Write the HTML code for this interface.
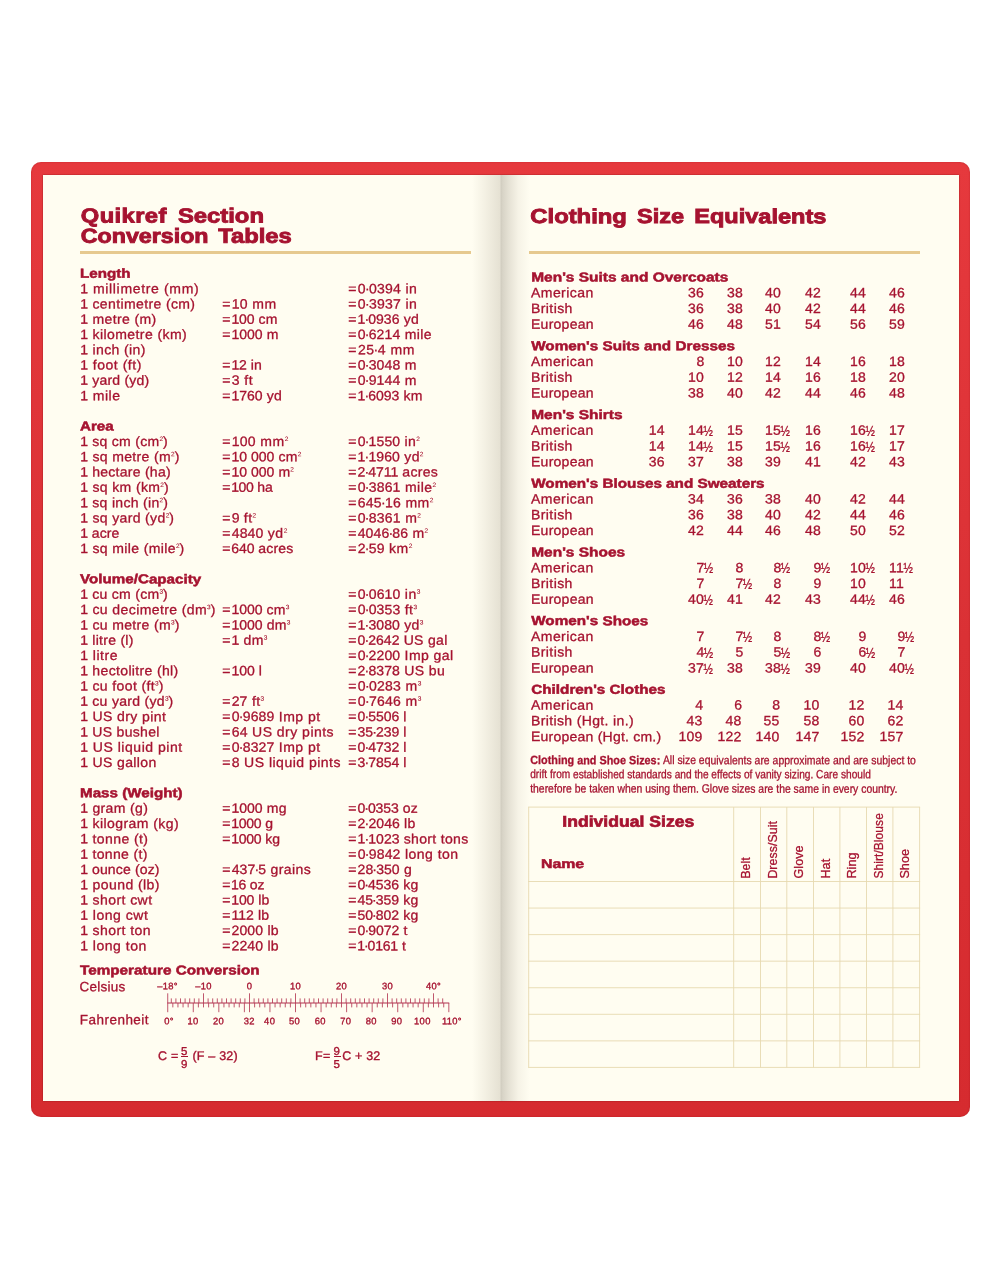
<!DOCTYPE html>
<html lang="en">
<head>
<meta charset="utf-8">
<title>Quikref Section – Conversion Tables / Clothing Size Equivalents</title>
<style>
html,body{margin:0;padding:0;background:#fff;}
body{width:1000px;height:1278px;position:relative;overflow:hidden;font-family:"Liberation Sans",sans-serif;color:#a61330;}
#cover{position:absolute;left:31.1px;top:161.8px;width:939.3px;height:954.8px;border-radius:10px;background:linear-gradient(180deg,#e6393d 0%,#e03539 25%,#da3135 50%,#d82e32 75%,#d62b2f 100%);box-shadow:inset 0 0 1.5px rgba(130,10,15,.55);}
#paper{position:absolute;left:43.1px;top:174.6px;width:916.1px;height:926.6px;background:#fffdf1;overflow:hidden;box-shadow:0 0 1.5px rgba(110,10,15,.7);}
#gl{position:absolute;left:429px;top:0;width:29px;height:100%;background:linear-gradient(90deg,rgba(238,234,220,0) 0%,rgba(236,232,218,.6) 45%,rgba(229,225,211,1) 97%,rgba(206,202,190,1) 100%);}
#gr{position:absolute;left:458px;top:0;width:29px;height:100%;background:linear-gradient(90deg,rgba(208,204,191,1) 0%,rgba(216,212,199,1) 6%,rgba(226,222,209,.88) 28%,rgba(237,233,220,.5) 60%,rgba(240,236,223,0) 100%);}
#txt div{position:absolute;left:0;top:0;white-space:pre;line-height:0;height:0;transform-origin:0 0;}
#txt div.c{text-align:center;}
#txt div.v{font-size:13.5px;letter-spacing:.1px;}
#txt div.f{-webkit-text-stroke:.35px #a61330;}
#txt div.h2{-webkit-text-stroke:.65px #a61330;}
#txt div.bar{height:1px;background:#a61330;}
#txt i{font-style:normal;font-size:6.3px;position:relative;top:-4.8px;letter-spacing:0;margin-left:0;-webkit-text-stroke:.1px #a61330;}
#txt b{font-weight:400;display:inline-block;transform:scale(.8,1.08) translateY(.9px);transform-origin:0 50%;letter-spacing:0;margin-left:-.5px;}
#txt strong{font-weight:700;}
#txt s{text-decoration:none;margin:0 -.85px;}
#txt em{font-style:normal;margin-right:1px;}
#txt u{text-decoration:none;letter-spacing:.2px;}
#txt div{-webkit-text-stroke:.3px #a61330;}
#txt div.h1{-webkit-text-stroke:.9px #a61330;}
#txt div.h{-webkit-text-stroke:.5px #a61330;}
.rule{position:absolute;height:3.2px;background:#e6c98f;top:251.1px;}
svg{position:absolute;left:0;top:0;}
svg.sc path{stroke:#b53a55;stroke-width:.85;fill:none;}
svg.sc path.ln{stroke:#b0304c;stroke-width:1;}
svg.grid path{stroke:#e6d9b0;stroke-width:.9;fill:none;}
</style>
</head>
<body>
<div id="cover"></div>
<div id="paper"><div id="gl"></div><div id="gr"></div></div>
<div class="rule" style="left:80px;width:390.9px"></div>
<div class="rule" style="left:529.3px;width:390.7px;top:251.3px"></div>
<div id="txt">
<div class="h1" style="transform:translate(80.80px,215.50px) matrix(1.17,.0005,0,1,0,0);font-size:20.3px;font-weight:700;letter-spacing:0.35px;">Quikref</div>
<div class="h1" style="transform:translate(177.90px,215.50px) matrix(1.175,.0005,0,1,0,0);font-size:20.3px;font-weight:700;">Section</div>
<div class="h1" style="transform:translate(80.80px,235.80px) matrix(1.145,.0005,0,1,0,0);font-size:20.3px;font-weight:700;">Conversion</div>
<div class="h1" style="transform:translate(218.30px,235.80px) matrix(1.17,.0005,0,1,0,0);font-size:20.3px;font-weight:700;">Tables</div>
<div class="h" style="transform:translate(80.00px,273.67px) matrix(1.168,.0005,0,1,0,0);font-size:13px;font-weight:700;">Length</div>
<div style="transform:translate(80.30px,289.15px) matrix(1.04,.0005,0,1,0,0);font-size:13.5px;letter-spacing:0.62px;"><u style="letter-spacing:0.32px">1</u> millimetre (mm)</div>
<div style="transform:translate(348.30px,289.15px) matrix(1.04,.0005,0,1,0,0);font-size:13.5px;letter-spacing:0.5px;"><u><em>=</em>0<s>·</s>0394</u> in</div>
<div style="transform:translate(80.30px,304.43px) matrix(1.04,.0005,0,1,0,0);font-size:13.5px;letter-spacing:0.35px;"><u style="letter-spacing:0.05px">1</u> centimetre (cm)</div>
<div style="transform:translate(222.30px,304.43px) matrix(1.04,.0005,0,1,0,0);font-size:13.5px;letter-spacing:0.5px;"><u><em>=</em>10</u> mm</div>
<div style="transform:translate(348.30px,304.43px) matrix(1.04,.0005,0,1,0,0);font-size:13.5px;letter-spacing:0.5px;"><u><em>=</em>0<s>·</s>3937</u> in</div>
<div style="transform:translate(80.30px,319.72px) matrix(1.04,.0005,0,1,0,0);font-size:13.5px;letter-spacing:0.36px;"><u style="letter-spacing:0.06px">1</u> metre (m)</div>
<div style="transform:translate(222.30px,319.72px) matrix(1.04,.0005,0,1,0,0);font-size:13.5px;letter-spacing:0.18px;"><u style="letter-spacing:-0.12px"><em>=</em>100</u> cm</div>
<div style="transform:translate(348.30px,319.72px) matrix(1.04,.0005,0,1,0,0);font-size:13.5px;letter-spacing:0.29px;"><u style="letter-spacing:-0.01px"><em>=</em>1<s>·</s>0936</u> yd</div>
<div style="transform:translate(80.30px,335.00px) matrix(1.04,.0005,0,1,0,0);font-size:13.5px;letter-spacing:0.39px;"><u style="letter-spacing:0.09px">1</u> kilometre (km)</div>
<div style="transform:translate(222.30px,335.00px) matrix(1.04,.0005,0,1,0,0);font-size:13.5px;letter-spacing:0.26px;"><u style="letter-spacing:-0.04px"><em>=</em>1000</u> m</div>
<div style="transform:translate(348.30px,335.00px) matrix(1.04,.0005,0,1,0,0);font-size:13.5px;letter-spacing:0.41px;"><u style="letter-spacing:0.11px"><em>=</em>0<s>·</s>6214</u> mile</div>
<div style="transform:translate(80.30px,350.29px) matrix(1.04,.0005,0,1,0,0);font-size:13.5px;letter-spacing:0.36px;"><u style="letter-spacing:0.06px">1</u> inch (in)</div>
<div style="transform:translate(348.30px,350.29px) matrix(1.04,.0005,0,1,0,0);font-size:13.5px;letter-spacing:0.67px;"><u style="letter-spacing:0.37px"><em>=</em>25<s>·</s>4</u> mm</div>
<div style="transform:translate(80.30px,365.57px) matrix(1.04,.0005,0,1,0,0);font-size:13.5px;letter-spacing:0.5px;"><u>1</u> foot (ft)</div>
<div style="transform:translate(222.30px,365.57px) matrix(1.04,.0005,0,1,0,0);font-size:13.5px;letter-spacing:0.16px;"><u style="letter-spacing:-0.14px"><em>=</em>12</u> in</div>
<div style="transform:translate(348.30px,365.57px) matrix(1.04,.0005,0,1,0,0);font-size:13.5px;letter-spacing:0.41px;"><u style="letter-spacing:0.11px"><em>=</em>0<s>·</s>3048</u> m</div>
<div style="transform:translate(80.30px,380.85px) matrix(1.04,.0005,0,1,0,0);font-size:13.5px;letter-spacing:0.21px;"><u style="letter-spacing:-0.09px">1</u> yard (yd)</div>
<div style="transform:translate(222.30px,380.85px) matrix(1.04,.0005,0,1,0,0);font-size:13.5px;letter-spacing:0.5px;"><u><em>=</em>3</u> ft</div>
<div style="transform:translate(348.30px,380.85px) matrix(1.04,.0005,0,1,0,0);font-size:13.5px;letter-spacing:0.41px;"><u style="letter-spacing:0.11px"><em>=</em>0<s>·</s>9144</u> m</div>
<div style="transform:translate(80.30px,396.14px) matrix(1.04,.0005,0,1,0,0);font-size:13.5px;letter-spacing:0.5px;"><u>1</u> mile</div>
<div style="transform:translate(222.30px,396.14px) matrix(1.04,.0005,0,1,0,0);font-size:13.5px;letter-spacing:0.26px;"><u style="letter-spacing:-0.04px"><em>=</em>1760</u> yd</div>
<div style="transform:translate(348.30px,396.14px) matrix(1.04,.0005,0,1,0,0);font-size:13.5px;letter-spacing:0.26px;"><u style="letter-spacing:-0.04px"><em>=</em>1<s>·</s>6093</u> km</div>
<div class="h" style="transform:translate(80.00px,426.51px) matrix(1.168,.0005,0,1,0,0);font-size:13px;font-weight:700;">Area</div>
<div style="transform:translate(80.30px,441.99px) matrix(1.04,.0005,0,1,0,0);font-size:13.5px;letter-spacing:0.26px;"><u style="letter-spacing:-0.04px">1</u> sq cm (cm<i>2</i>)</div>
<div style="transform:translate(222.30px,441.99px) matrix(1.04,.0005,0,1,0,0);font-size:13.5px;letter-spacing:0.5px;"><u><em>=</em>100</u> mm<i>2</i></div>
<div style="transform:translate(348.30px,441.99px) matrix(1.04,.0005,0,1,0,0);font-size:13.5px;letter-spacing:0.4px;"><u style="letter-spacing:0.10px"><em>=</em>0<s>·</s>1550</u> in<i>2</i></div>
<div style="transform:translate(80.30px,457.27px) matrix(1.04,.0005,0,1,0,0);font-size:13.5px;letter-spacing:0.33px;"><u style="letter-spacing:0.03px">1</u> sq metre (m<i>2</i>)</div>
<div style="transform:translate(222.30px,457.27px) matrix(1.04,.0005,0,1,0,0);font-size:13.5px;letter-spacing:0.26px;"><u style="letter-spacing:-0.04px"><em>=</em>10 000</u> cm<i>2</i></div>
<div style="transform:translate(348.30px,457.27px) matrix(1.04,.0005,0,1,0,0);font-size:13.5px;letter-spacing:0.36px;"><u style="letter-spacing:0.06px"><em>=</em>1<s>·</s>1960</u> yd<i>2</i></div>
<div style="transform:translate(80.30px,472.56px) matrix(1.04,.0005,0,1,0,0);font-size:13.5px;letter-spacing:0.24px;"><u style="letter-spacing:-0.06px">1</u> hectare (ha)</div>
<div style="transform:translate(222.30px,472.56px) matrix(1.04,.0005,0,1,0,0);font-size:13.5px;letter-spacing:0.26px;"><u style="letter-spacing:-0.04px"><em>=</em>10 000</u> m<i>2</i></div>
<div style="transform:translate(348.30px,472.56px) matrix(1.04,.0005,0,1,0,0);font-size:13.5px;letter-spacing:0.26px;"><u style="letter-spacing:-0.04px"><em>=</em>2<s>·</s>4711</u> acres</div>
<div style="transform:translate(80.30px,487.84px) matrix(1.04,.0005,0,1,0,0);font-size:13.5px;letter-spacing:0.34px;"><u style="letter-spacing:0.04px">1</u> sq km (km<i>2</i>)</div>
<div style="transform:translate(222.30px,487.84px) matrix(1.04,.0005,0,1,0,0);font-size:13.5px;letter-spacing:-0.06px;"><u style="letter-spacing:-0.36px"><em>=</em>100</u> ha</div>
<div style="transform:translate(348.30px,487.84px) matrix(1.04,.0005,0,1,0,0);font-size:13.5px;letter-spacing:0.44px;"><u style="letter-spacing:0.14px"><em>=</em>0<s>·</s>3861</u> mile<i>2</i></div>
<div style="transform:translate(80.30px,503.13px) matrix(1.04,.0005,0,1,0,0);font-size:13.5px;letter-spacing:0.29px;"><u style="letter-spacing:-0.01px">1</u> sq inch (in<i>2</i>)</div>
<div style="transform:translate(348.30px,503.13px) matrix(1.04,.0005,0,1,0,0);font-size:13.5px;letter-spacing:0.5px;"><u><em>=</em>645<s>·</s>16</u> mm<i>2</i></div>
<div style="transform:translate(80.30px,518.41px) matrix(1.04,.0005,0,1,0,0);font-size:13.5px;letter-spacing:0.33px;"><u style="letter-spacing:0.03px">1</u> sq yard (yd<i>2</i>)</div>
<div style="transform:translate(222.30px,518.41px) matrix(1.04,.0005,0,1,0,0);font-size:13.5px;letter-spacing:0.4px;"><u style="letter-spacing:0.10px"><em>=</em>9</u> ft<i>2</i></div>
<div style="transform:translate(348.30px,518.41px) matrix(1.04,.0005,0,1,0,0);font-size:13.5px;letter-spacing:0.47px;"><u style="letter-spacing:0.17px"><em>=</em>0<s>·</s>8361</u> m<i>2</i></div>
<div style="transform:translate(80.30px,533.69px) matrix(1.04,.0005,0,1,0,0);font-size:13.5px;letter-spacing:0.07px;"><u style="letter-spacing:-0.23px">1</u> acre</div>
<div style="transform:translate(222.30px,533.69px) matrix(1.04,.0005,0,1,0,0);font-size:13.5px;letter-spacing:0.44px;"><u style="letter-spacing:0.14px"><em>=</em>4840</u> yd<i>2</i></div>
<div style="transform:translate(348.30px,533.69px) matrix(1.04,.0005,0,1,0,0);font-size:13.5px;letter-spacing:0.4px;"><u style="letter-spacing:0.10px"><em>=</em>4046<s>·</s>86</u> m<i>2</i></div>
<div style="transform:translate(80.30px,548.98px) matrix(1.04,.0005,0,1,0,0);font-size:13.5px;letter-spacing:0.35px;"><u style="letter-spacing:0.05px">1</u> sq mile (mile<i>2</i>)</div>
<div style="transform:translate(222.30px,548.98px) matrix(1.04,.0005,0,1,0,0);font-size:13.5px;letter-spacing:0.13px;"><u style="letter-spacing:-0.17px"><em>=</em>640</u> acres</div>
<div style="transform:translate(348.30px,548.98px) matrix(1.04,.0005,0,1,0,0);font-size:13.5px;letter-spacing:0.44px;"><u style="letter-spacing:0.14px"><em>=</em>2<s>·</s>59</u> km<i>2</i></div>
<div class="h" style="transform:translate(80.00px,579.35px) matrix(1.168,.0005,0,1,0,0);font-size:13px;font-weight:700;">Volume/Capacity</div>
<div style="transform:translate(80.30px,594.83px) matrix(1.04,.0005,0,1,0,0);font-size:13.5px;letter-spacing:0.26px;"><u style="letter-spacing:-0.04px">1</u> cu cm (cm<i>3</i>)</div>
<div style="transform:translate(348.30px,594.83px) matrix(1.04,.0005,0,1,0,0);font-size:13.5px;letter-spacing:0.43px;"><u style="letter-spacing:0.13px"><em>=</em>0<s>·</s>0610</u> in<i>3</i></div>
<div style="transform:translate(80.30px,610.11px) matrix(1.04,.0005,0,1,0,0);font-size:13.5px;letter-spacing:0.37px;"><u style="letter-spacing:0.07px">1</u> cu decimetre (dm<i>3</i>)</div>
<div style="transform:translate(222.30px,610.11px) matrix(1.04,.0005,0,1,0,0);font-size:13.5px;letter-spacing:0.23px;"><u style="letter-spacing:-0.07px"><em>=</em>1000</u> cm<i>3</i></div>
<div style="transform:translate(348.30px,610.11px) matrix(1.04,.0005,0,1,0,0);font-size:13.5px;letter-spacing:0.42px;"><u style="letter-spacing:0.12px"><em>=</em>0<s>·</s>0353</u> ft<i>3</i></div>
<div style="transform:translate(80.30px,625.40px) matrix(1.04,.0005,0,1,0,0);font-size:13.5px;letter-spacing:0.33px;"><u style="letter-spacing:0.03px">1</u> cu metre (m<i>3</i>)</div>
<div style="transform:translate(222.30px,625.40px) matrix(1.04,.0005,0,1,0,0);font-size:13.5px;letter-spacing:0.26px;"><u style="letter-spacing:-0.04px"><em>=</em>1000</u> dm<i>3</i></div>
<div style="transform:translate(348.30px,625.40px) matrix(1.04,.0005,0,1,0,0);font-size:13.5px;letter-spacing:0.35px;"><u style="letter-spacing:0.05px"><em>=</em>1<s>·</s>3080</u> yd<i>3</i></div>
<div style="transform:translate(80.30px,640.68px) matrix(1.04,.0005,0,1,0,0);font-size:13.5px;letter-spacing:0.26px;"><u style="letter-spacing:-0.04px">1</u> litre (l)</div>
<div style="transform:translate(222.30px,640.68px) matrix(1.04,.0005,0,1,0,0);font-size:13.5px;letter-spacing:0.31px;"><u style="letter-spacing:0.01px"><em>=</em>1</u> dm<i>3</i></div>
<div style="transform:translate(348.30px,640.68px) matrix(1.04,.0005,0,1,0,0);font-size:13.5px;letter-spacing:0.29px;"><u style="letter-spacing:-0.01px"><em>=</em>0<s>·</s>2642</u> US gal</div>
<div style="transform:translate(80.30px,655.97px) matrix(1.04,.0005,0,1,0,0);font-size:13.5px;letter-spacing:0.5px;"><u>1</u> litre</div>
<div style="transform:translate(348.30px,655.97px) matrix(1.04,.0005,0,1,0,0);font-size:13.5px;letter-spacing:0.4px;"><u style="letter-spacing:0.10px"><em>=</em>0<s>·</s>2200</u> Imp gal</div>
<div style="transform:translate(80.30px,671.25px) matrix(1.04,.0005,0,1,0,0);font-size:13.5px;letter-spacing:0.32px;"><u style="letter-spacing:0.02px">1</u> hectolitre (hl)</div>
<div style="transform:translate(222.30px,671.25px) matrix(1.04,.0005,0,1,0,0);font-size:13.5px;letter-spacing:0.21px;"><u style="letter-spacing:-0.09px"><em>=</em>100</u> l</div>
<div style="transform:translate(348.30px,671.25px) matrix(1.04,.0005,0,1,0,0);font-size:13.5px;letter-spacing:0.36px;"><u style="letter-spacing:0.06px"><em>=</em>2<s>·</s>8378</u> US bu</div>
<div style="transform:translate(80.30px,686.53px) matrix(1.04,.0005,0,1,0,0);font-size:13.5px;letter-spacing:0.36px;"><u style="letter-spacing:0.06px">1</u> cu foot (ft<i>3</i>)</div>
<div style="transform:translate(348.30px,686.53px) matrix(1.04,.0005,0,1,0,0);font-size:13.5px;letter-spacing:0.5px;"><u style="letter-spacing:0.20px"><em>=</em>0<s>·</s>0283</u> m<i>3</i></div>
<div style="transform:translate(80.30px,701.82px) matrix(1.04,.0005,0,1,0,0);font-size:13.5px;letter-spacing:0.28px;"><u style="letter-spacing:-0.02px">1</u> cu yard (yd<i>3</i>)</div>
<div style="transform:translate(222.30px,701.82px) matrix(1.04,.0005,0,1,0,0);font-size:13.5px;letter-spacing:0.42px;"><u style="letter-spacing:0.12px"><em>=</em>27</u> ft<i>3</i></div>
<div style="transform:translate(348.30px,701.82px) matrix(1.04,.0005,0,1,0,0);font-size:13.5px;letter-spacing:0.5px;"><u style="letter-spacing:0.20px"><em>=</em>0<s>·</s>7646</u> m<i>3</i></div>
<div style="transform:translate(80.30px,717.10px) matrix(1.04,.0005,0,1,0,0);font-size:13.5px;letter-spacing:0.38px;"><u style="letter-spacing:0.08px">1</u> US dry pint</div>
<div style="transform:translate(222.30px,717.10px) matrix(1.04,.0005,0,1,0,0);font-size:13.5px;letter-spacing:0.43px;"><u style="letter-spacing:0.13px"><em>=</em>0<s>·</s>9689</u> Imp pt</div>
<div style="transform:translate(348.30px,717.10px) matrix(1.04,.0005,0,1,0,0);font-size:13.5px;letter-spacing:0.25px;"><u style="letter-spacing:-0.05px"><em>=</em>0<s>·</s>5506</u> l</div>
<div style="transform:translate(80.30px,732.39px) matrix(1.04,.0005,0,1,0,0);font-size:13.5px;letter-spacing:0.28px;"><u style="letter-spacing:-0.02px">1</u> US bushel</div>
<div style="transform:translate(222.30px,732.39px) matrix(1.04,.0005,0,1,0,0);font-size:13.5px;letter-spacing:0.45px;"><u style="letter-spacing:0.15px"><em>=</em>64</u> US dry pints</div>
<div style="transform:translate(348.30px,732.39px) matrix(1.04,.0005,0,1,0,0);font-size:13.5px;letter-spacing:0.25px;"><u style="letter-spacing:-0.05px"><em>=</em>35<s>·</s>239</u> l</div>
<div style="transform:translate(80.30px,747.67px) matrix(1.04,.0005,0,1,0,0);font-size:13.5px;letter-spacing:0.5px;"><u>1</u> US liquid pint</div>
<div style="transform:translate(222.30px,747.67px) matrix(1.04,.0005,0,1,0,0);font-size:13.5px;letter-spacing:0.43px;"><u style="letter-spacing:0.13px"><em>=</em>0<s>·</s>8327</u> Imp pt</div>
<div style="transform:translate(348.30px,747.67px) matrix(1.04,.0005,0,1,0,0);font-size:13.5px;letter-spacing:0.25px;"><u style="letter-spacing:-0.05px"><em>=</em>0<s>·</s>4732</u> l</div>
<div style="transform:translate(80.30px,762.95px) matrix(1.04,.0005,0,1,0,0);font-size:13.5px;letter-spacing:0.36px;"><u style="letter-spacing:0.06px">1</u> US gallon</div>
<div style="transform:translate(222.30px,762.95px) matrix(1.04,.0005,0,1,0,0);font-size:13.5px;letter-spacing:0.46px;"><u style="letter-spacing:0.16px"><em>=</em>8</u> US liquid pints</div>
<div style="transform:translate(348.30px,762.95px) matrix(1.04,.0005,0,1,0,0);font-size:13.5px;letter-spacing:0.25px;"><u style="letter-spacing:-0.05px"><em>=</em>3<s>·</s>7854</u> l</div>
<div class="h" style="transform:translate(80.00px,793.32px) matrix(1.168,.0005,0,1,0,0);font-size:13px;font-weight:700;">Mass (Weight)</div>
<div style="transform:translate(80.30px,808.81px) matrix(1.04,.0005,0,1,0,0);font-size:13.5px;letter-spacing:0.34px;"><u style="letter-spacing:0.04px">1</u> gram (g)</div>
<div style="transform:translate(222.30px,808.81px) matrix(1.04,.0005,0,1,0,0);font-size:13.5px;letter-spacing:0.26px;"><u style="letter-spacing:-0.04px"><em>=</em>1000</u> mg</div>
<div style="transform:translate(348.30px,808.81px) matrix(1.04,.0005,0,1,0,0);font-size:13.5px;letter-spacing:0.18px;"><u style="letter-spacing:-0.12px"><em>=</em>0<s>·</s>0353</u> oz</div>
<div style="transform:translate(80.30px,824.09px) matrix(1.04,.0005,0,1,0,0);font-size:13.5px;letter-spacing:0.4px;"><u style="letter-spacing:0.10px">1</u> kilogram (kg)</div>
<div style="transform:translate(222.30px,824.09px) matrix(1.04,.0005,0,1,0,0);font-size:13.5px;letter-spacing:0.02px;"><u style="letter-spacing:-0.28px"><em>=</em>1000</u> g</div>
<div style="transform:translate(348.30px,824.09px) matrix(1.04,.0005,0,1,0,0);font-size:13.5px;letter-spacing:0.34px;"><u style="letter-spacing:0.04px"><em>=</em>2<s>·</s>2046</u> lb</div>
<div style="transform:translate(80.30px,839.37px) matrix(1.04,.0005,0,1,0,0);font-size:13.5px;letter-spacing:0.38px;"><u style="letter-spacing:0.08px">1</u> tonne (t)</div>
<div style="transform:translate(222.30px,839.37px) matrix(1.04,.0005,0,1,0,0);font-size:13.5px;letter-spacing:0.02px;"><u style="letter-spacing:-0.28px"><em>=</em>1000</u> kg</div>
<div style="transform:translate(348.30px,839.37px) matrix(1.04,.0005,0,1,0,0);font-size:13.5px;letter-spacing:0.3px;"><u style="letter-spacing:0.00px"><em>=</em>1<s>·</s>1023</u> short tons</div>
<div style="transform:translate(80.30px,854.66px) matrix(1.04,.0005,0,1,0,0);font-size:13.5px;letter-spacing:0.33px;"><u style="letter-spacing:0.03px">1</u> tonne (t)</div>
<div style="transform:translate(348.30px,854.66px) matrix(1.04,.0005,0,1,0,0);font-size:13.5px;letter-spacing:0.44px;"><u style="letter-spacing:0.14px"><em>=</em>0<s>·</s>9842</u> long ton</div>
<div style="transform:translate(80.30px,869.94px) matrix(1.04,.0005,0,1,0,0);font-size:13.5px;letter-spacing:0.13px;"><u style="letter-spacing:-0.17px">1</u> ounce (oz)</div>
<div style="transform:translate(222.30px,869.94px) matrix(1.04,.0005,0,1,0,0);font-size:13.5px;letter-spacing:0.38px;"><u style="letter-spacing:0.08px"><em>=</em>437<s>·</s>5</u> grains</div>
<div style="transform:translate(348.30px,869.94px) matrix(1.04,.0005,0,1,0,0);font-size:13.5px;letter-spacing:0.32px;"><u style="letter-spacing:0.02px"><em>=</em>28<s>·</s>350</u> g</div>
<div style="transform:translate(80.30px,885.23px) matrix(1.04,.0005,0,1,0,0);font-size:13.5px;letter-spacing:0.39px;"><u style="letter-spacing:0.09px">1</u> pound (lb)</div>
<div style="transform:translate(222.30px,885.23px) matrix(1.04,.0005,0,1,0,0);font-size:13.5px;letter-spacing:-0.1px;"><u style="letter-spacing:-0.40px"><em>=</em>16</u> oz</div>
<div style="transform:translate(348.30px,885.23px) matrix(1.04,.0005,0,1,0,0);font-size:13.5px;letter-spacing:0.23px;"><u style="letter-spacing:-0.07px"><em>=</em>0<s>·</s>4536</u> kg</div>
<div style="transform:translate(80.30px,900.51px) matrix(1.04,.0005,0,1,0,0);font-size:13.5px;letter-spacing:0.4px;"><u style="letter-spacing:0.10px">1</u> short cwt</div>
<div style="transform:translate(222.30px,900.51px) matrix(1.04,.0005,0,1,0,0);font-size:13.5px;letter-spacing:0.1px;"><u style="letter-spacing:-0.20px"><em>=</em>100</u> lb</div>
<div style="transform:translate(348.30px,900.51px) matrix(1.04,.0005,0,1,0,0);font-size:13.5px;letter-spacing:0.23px;"><u style="letter-spacing:-0.07px"><em>=</em>45<s>·</s>359</u> kg</div>
<div style="transform:translate(80.30px,915.79px) matrix(1.04,.0005,0,1,0,0);font-size:13.5px;letter-spacing:0.5px;"><u>1</u> long cwt</div>
<div style="transform:translate(222.30px,915.79px) matrix(1.04,.0005,0,1,0,0);font-size:13.5px;letter-spacing:0.26px;"><u style="letter-spacing:-0.04px"><em>=</em>112</u> lb</div>
<div style="transform:translate(348.30px,915.79px) matrix(1.04,.0005,0,1,0,0);font-size:13.5px;letter-spacing:0.23px;"><u style="letter-spacing:-0.07px"><em>=</em>50<s>·</s>802</u> kg</div>
<div style="transform:translate(80.30px,931.08px) matrix(1.04,.0005,0,1,0,0);font-size:13.5px;letter-spacing:0.4px;"><u style="letter-spacing:0.10px">1</u> short ton</div>
<div style="transform:translate(222.30px,931.08px) matrix(1.04,.0005,0,1,0,0);font-size:13.5px;letter-spacing:0.36px;"><u style="letter-spacing:0.06px"><em>=</em>2000</u> lb</div>
<div style="transform:translate(348.30px,931.08px) matrix(1.04,.0005,0,1,0,0);font-size:13.5px;letter-spacing:0.26px;"><u style="letter-spacing:-0.04px"><em>=</em>0<s>·</s>9072</u> t</div>
<div style="transform:translate(80.30px,946.36px) matrix(1.04,.0005,0,1,0,0);font-size:13.5px;letter-spacing:0.5px;"><u>1</u> long ton</div>
<div style="transform:translate(222.30px,946.36px) matrix(1.04,.0005,0,1,0,0);font-size:13.5px;letter-spacing:0.36px;"><u style="letter-spacing:0.06px"><em>=</em>2240</u> lb</div>
<div style="transform:translate(348.30px,946.36px) matrix(1.04,.0005,0,1,0,0);font-size:13.5px;letter-spacing:0.08px;"><u style="letter-spacing:-0.22px"><em>=</em>1<s>·</s>0161</u> t</div>
<div class="h" style="transform:translate(80.00px,970.40px) matrix(1.175,.0005,0,1,0,0);font-size:13px;font-weight:700;">Temperature Conversion</div>
<div style="transform:translate(79.60px,987.20px) matrix(1.0,.0005,0,1,0,0);font-size:13.5px;letter-spacing:0.25px;">Celsius</div>
<div style="transform:translate(79.80px,1020.30px) matrix(1.0,.0005,0,1,0,0);font-size:13.5px;letter-spacing:0.47px;">Fahrenheit</div>
<svg class="sc" width="1000" height="1278" viewBox="0 0 1000 1278"><path class="ln" d="M167.32 1003H449.23" /><path d="M171.30 998.4V1003M175.90 998.4V1003M180.50 998.4V1003M185.10 998.4V1003M189.70 998.4V1003M194.30 998.4V1003M198.90 998.4V1003M203.50 993.3V1003M208.10 998.4V1003M212.70 998.4V1003M217.30 998.4V1003M221.90 998.4V1003M226.50 998.4V1003M231.10 998.4V1003M235.70 998.4V1003M240.30 998.4V1003M244.90 998.4V1003M249.50 993.3V1003M254.10 998.4V1003M258.70 998.4V1003M263.30 998.4V1003M267.90 998.4V1003M272.50 998.4V1003M277.10 998.4V1003M281.70 998.4V1003M286.30 998.4V1003M290.90 998.4V1003M295.50 993.3V1003M300.10 998.4V1003M304.70 998.4V1003M309.30 998.4V1003M313.90 998.4V1003M318.50 998.4V1003M323.10 998.4V1003M327.70 998.4V1003M332.30 998.4V1003M336.90 998.4V1003M341.50 993.3V1003M346.10 998.4V1003M350.70 998.4V1003M355.30 998.4V1003M359.90 998.4V1003M364.50 998.4V1003M369.10 998.4V1003M373.70 998.4V1003M378.30 998.4V1003M382.90 998.4V1003M387.50 993.3V1003M392.10 998.4V1003M396.70 998.4V1003M401.30 998.4V1003M405.90 998.4V1003M410.50 998.4V1003M415.10 998.4V1003M419.70 998.4V1003M424.30 998.4V1003M428.90 998.4V1003M433.50 993.3V1003M438.10 998.4V1003M442.70 998.4V1003M167.72 993.3V1003M167.72 1003V1012.2M172.83 1003V1007.4M177.94 1003V1007.4M183.06 1003V1007.4M188.17 1003V1007.4M193.28 1003V1012.2M198.39 1003V1007.4M203.50 1003V1007.4M208.61 1003V1007.4M213.72 1003V1007.4M218.83 1003V1012.2M223.94 1003V1007.4M229.06 1003V1007.4M234.17 1003V1007.4M239.28 1003V1007.4M244.39 1003V1012.2M249.50 1003V1012.2M254.61 1003V1007.4M259.72 1003V1007.4M264.83 1003V1007.4M269.94 1003V1012.2M275.06 1003V1007.4M280.17 1003V1007.4M285.28 1003V1007.4M290.39 1003V1007.4M295.50 1003V1012.2M300.61 1003V1007.4M305.72 1003V1007.4M310.83 1003V1007.4M315.94 1003V1007.4M321.06 1003V1012.2M326.17 1003V1007.4M331.28 1003V1007.4M336.39 1003V1007.4M341.50 1003V1007.4M346.61 1003V1012.2M351.72 1003V1007.4M356.83 1003V1007.4M361.94 1003V1007.4M367.06 1003V1007.4M372.17 1003V1012.2M377.28 1003V1007.4M382.39 1003V1007.4M387.50 1003V1007.4M392.61 1003V1007.4M397.72 1003V1012.2M402.83 1003V1007.4M407.94 1003V1007.4M413.06 1003V1007.4M418.17 1003V1007.4M423.28 1003V1012.2M428.39 1003V1007.4M433.50 1003V1007.4M438.61 1003V1007.4M443.72 1003V1007.4M448.83 1003V1012.2" /></svg>
<div class="c f" style="transform:translate(127.62px,986.30px) matrix(1,.0005,0,1,0,0);width:80px;font-size:9.4px;letter-spacing:0.3px">–18°</div>
<div class="c f" style="transform:translate(163.50px,986.30px) matrix(1,.0005,0,1,0,0);width:80px;font-size:9.4px;letter-spacing:0.3px">–10</div>
<div class="c f" style="transform:translate(209.50px,986.30px) matrix(1,.0005,0,1,0,0);width:80px;font-size:9.4px;letter-spacing:0.3px">0</div>
<div class="c f" style="transform:translate(255.50px,986.30px) matrix(1,.0005,0,1,0,0);width:80px;font-size:9.4px;letter-spacing:0.3px">10</div>
<div class="c f" style="transform:translate(301.50px,986.30px) matrix(1,.0005,0,1,0,0);width:80px;font-size:9.4px;letter-spacing:0.3px">20</div>
<div class="c f" style="transform:translate(347.50px,986.30px) matrix(1,.0005,0,1,0,0);width:80px;font-size:9.4px;letter-spacing:0.3px">30</div>
<div class="c f" style="transform:translate(393.50px,986.30px) matrix(1,.0005,0,1,0,0);width:80px;font-size:9.4px;letter-spacing:0.3px">40°</div>
<div class="c f" style="transform:translate(129.02px,1021.30px) matrix(1,.0005,0,1,0,0);width:80px;font-size:9.4px;letter-spacing:0.3px">0°</div>
<div class="c f" style="transform:translate(152.98px,1021.30px) matrix(1,.0005,0,1,0,0);width:80px;font-size:9.4px;letter-spacing:0.3px">10</div>
<div class="c f" style="transform:translate(178.53px,1021.30px) matrix(1,.0005,0,1,0,0);width:80px;font-size:9.4px;letter-spacing:0.3px">20</div>
<div class="c f" style="transform:translate(209.20px,1021.30px) matrix(1,.0005,0,1,0,0);width:80px;font-size:9.4px;letter-spacing:0.3px">32</div>
<div class="c f" style="transform:translate(229.64px,1021.30px) matrix(1,.0005,0,1,0,0);width:80px;font-size:9.4px;letter-spacing:0.3px">40</div>
<div class="c f" style="transform:translate(254.60px,1021.30px) matrix(1,.0005,0,1,0,0);width:80px;font-size:9.4px;letter-spacing:0.3px">50</div>
<div class="c f" style="transform:translate(280.16px,1021.30px) matrix(1,.0005,0,1,0,0);width:80px;font-size:9.4px;letter-spacing:0.3px">60</div>
<div class="c f" style="transform:translate(305.71px,1021.30px) matrix(1,.0005,0,1,0,0);width:80px;font-size:9.4px;letter-spacing:0.3px">70</div>
<div class="c f" style="transform:translate(331.27px,1021.30px) matrix(1,.0005,0,1,0,0);width:80px;font-size:9.4px;letter-spacing:0.3px">80</div>
<div class="c f" style="transform:translate(356.82px,1021.30px) matrix(1,.0005,0,1,0,0);width:80px;font-size:9.4px;letter-spacing:0.3px">90</div>
<div class="c f" style="transform:translate(382.38px,1021.30px) matrix(1,.0005,0,1,0,0);width:80px;font-size:9.4px;letter-spacing:0.3px">100</div>
<div class="c f" style="transform:translate(411.83px,1021.30px) matrix(1,.0005,0,1,0,0);width:80px;font-size:9.4px;letter-spacing:0.3px">110°</div>
<div class="f" style="transform:translate(158.00px,1056.00px) matrix(1.0,.0005,0,1,0,0);font-size:12.5px;letter-spacing:0.3px;">C =</div>
<div class="f" style="transform:translate(181.00px,1051.00px) matrix(1.0,.0005,0,1,0,0);font-size:11.5px;">5</div>
<div class="f" style="transform:translate(181.00px,1064.00px) matrix(1.0,.0005,0,1,0,0);font-size:11.5px;">9</div>
<div class="bar" style="left:181.2px;top:1055.6px;width:6.8px"></div>
<div class="f" style="transform:translate(192.50px,1056.00px) matrix(1.0,.0005,0,1,0,0);font-size:12.5px;letter-spacing:0.2px;">(F – 32)</div>
<div class="f" style="transform:translate(315.00px,1056.00px) matrix(1.0,.0005,0,1,0,0);font-size:12.5px;letter-spacing:0.3px;">F=</div>
<div class="f" style="transform:translate(333.60px,1051.00px) matrix(1.0,.0005,0,1,0,0);font-size:11.5px;">9</div>
<div class="f" style="transform:translate(333.60px,1064.00px) matrix(1.0,.0005,0,1,0,0);font-size:11.5px;">5</div>
<div class="bar" style="left:333.8px;top:1055.6px;width:6.8px"></div>
<div class="f" style="transform:translate(342.30px,1056.00px) matrix(1.0,.0005,0,1,0,0);font-size:12.5px;letter-spacing:0.15px;">C + 32</div>
<div class="h1" style="transform:translate(530.30px,216.10px) matrix(1.175,.0005,0,1,0,0);font-size:20.3px;font-weight:700;">Clothing</div>
<div class="h1" style="transform:translate(637.00px,216.10px) matrix(1.16,.0005,0,1,0,0);font-size:20.3px;font-weight:700;">Size</div>
<div class="h1" style="transform:translate(694.30px,216.10px) matrix(1.16,.0005,0,1,0,0);font-size:20.3px;font-weight:700;">Equivalents</div>
<div class="h" style="transform:translate(531.20px,277.50px) matrix(1.19,.0005,0,1,0,0);font-size:13px;font-weight:700;">Men's Suits and Overcoats</div>
<div style="transform:translate(531.00px,293.30px) matrix(1.04,.0005,0,1,0,0);font-size:13.5px;letter-spacing:0.4px;">American</div>
<div style="transform:translate(687.97px,293.30px) matrix(1.04,.0005,0,1,0,0);font-size:13.5px;letter-spacing:0.2px;">36</div>
<div style="transform:translate(726.97px,293.30px) matrix(1.04,.0005,0,1,0,0);font-size:13.5px;letter-spacing:0.2px;">38</div>
<div style="transform:translate(764.97px,293.30px) matrix(1.04,.0005,0,1,0,0);font-size:13.5px;letter-spacing:0.2px;">40</div>
<div style="transform:translate(804.97px,293.30px) matrix(1.04,.0005,0,1,0,0);font-size:13.5px;letter-spacing:0.2px;">42</div>
<div style="transform:translate(849.97px,293.30px) matrix(1.04,.0005,0,1,0,0);font-size:13.5px;letter-spacing:0.2px;">44</div>
<div style="transform:translate(888.97px,293.30px) matrix(1.04,.0005,0,1,0,0);font-size:13.5px;letter-spacing:0.2px;">46</div>
<div style="transform:translate(531.00px,309.00px) matrix(1.04,.0005,0,1,0,0);font-size:13.5px;letter-spacing:0.38px;">British</div>
<div style="transform:translate(687.97px,309.00px) matrix(1.04,.0005,0,1,0,0);font-size:13.5px;letter-spacing:0.2px;">36</div>
<div style="transform:translate(726.97px,309.00px) matrix(1.04,.0005,0,1,0,0);font-size:13.5px;letter-spacing:0.2px;">38</div>
<div style="transform:translate(764.97px,309.00px) matrix(1.04,.0005,0,1,0,0);font-size:13.5px;letter-spacing:0.2px;">40</div>
<div style="transform:translate(804.97px,309.00px) matrix(1.04,.0005,0,1,0,0);font-size:13.5px;letter-spacing:0.2px;">42</div>
<div style="transform:translate(849.97px,309.00px) matrix(1.04,.0005,0,1,0,0);font-size:13.5px;letter-spacing:0.2px;">44</div>
<div style="transform:translate(888.97px,309.00px) matrix(1.04,.0005,0,1,0,0);font-size:13.5px;letter-spacing:0.2px;">46</div>
<div style="transform:translate(531.00px,324.80px) matrix(1.04,.0005,0,1,0,0);font-size:13.5px;letter-spacing:0.23px;">European</div>
<div style="transform:translate(687.97px,324.80px) matrix(1.04,.0005,0,1,0,0);font-size:13.5px;letter-spacing:0.2px;">46</div>
<div style="transform:translate(726.97px,324.80px) matrix(1.04,.0005,0,1,0,0);font-size:13.5px;letter-spacing:0.2px;">48</div>
<div style="transform:translate(764.97px,324.80px) matrix(1.04,.0005,0,1,0,0);font-size:13.5px;letter-spacing:0.2px;">51</div>
<div style="transform:translate(804.97px,324.80px) matrix(1.04,.0005,0,1,0,0);font-size:13.5px;letter-spacing:0.2px;">54</div>
<div style="transform:translate(849.97px,324.80px) matrix(1.04,.0005,0,1,0,0);font-size:13.5px;letter-spacing:0.2px;">56</div>
<div style="transform:translate(888.97px,324.80px) matrix(1.04,.0005,0,1,0,0);font-size:13.5px;letter-spacing:0.2px;">59</div>
<div class="h" style="transform:translate(531.20px,346.22px) matrix(1.175,.0005,0,1,0,0);font-size:13px;font-weight:700;">Women's Suits and Dresses</div>
<div style="transform:translate(531.00px,362.02px) matrix(1.04,.0005,0,1,0,0);font-size:13.5px;letter-spacing:0.4px;">American</div>
<div style="transform:translate(696.59px,362.02px) matrix(1.04,.0005,0,1,0,0);font-size:13.5px;letter-spacing:0.2px;">8</div>
<div style="transform:translate(726.97px,362.02px) matrix(1.04,.0005,0,1,0,0);font-size:13.5px;letter-spacing:0.2px;">10</div>
<div style="transform:translate(764.97px,362.02px) matrix(1.04,.0005,0,1,0,0);font-size:13.5px;letter-spacing:0.2px;">12</div>
<div style="transform:translate(804.97px,362.02px) matrix(1.04,.0005,0,1,0,0);font-size:13.5px;letter-spacing:0.2px;">14</div>
<div style="transform:translate(849.97px,362.02px) matrix(1.04,.0005,0,1,0,0);font-size:13.5px;letter-spacing:0.2px;">16</div>
<div style="transform:translate(888.97px,362.02px) matrix(1.04,.0005,0,1,0,0);font-size:13.5px;letter-spacing:0.2px;">18</div>
<div style="transform:translate(531.00px,377.72px) matrix(1.04,.0005,0,1,0,0);font-size:13.5px;letter-spacing:0.38px;">British</div>
<div style="transform:translate(687.97px,377.72px) matrix(1.04,.0005,0,1,0,0);font-size:13.5px;letter-spacing:0.2px;">10</div>
<div style="transform:translate(726.97px,377.72px) matrix(1.04,.0005,0,1,0,0);font-size:13.5px;letter-spacing:0.2px;">12</div>
<div style="transform:translate(764.97px,377.72px) matrix(1.04,.0005,0,1,0,0);font-size:13.5px;letter-spacing:0.2px;">14</div>
<div style="transform:translate(804.97px,377.72px) matrix(1.04,.0005,0,1,0,0);font-size:13.5px;letter-spacing:0.2px;">16</div>
<div style="transform:translate(849.97px,377.72px) matrix(1.04,.0005,0,1,0,0);font-size:13.5px;letter-spacing:0.2px;">18</div>
<div style="transform:translate(888.97px,377.72px) matrix(1.04,.0005,0,1,0,0);font-size:13.5px;letter-spacing:0.2px;">20</div>
<div style="transform:translate(531.00px,393.52px) matrix(1.04,.0005,0,1,0,0);font-size:13.5px;letter-spacing:0.23px;">European</div>
<div style="transform:translate(687.97px,393.52px) matrix(1.04,.0005,0,1,0,0);font-size:13.5px;letter-spacing:0.2px;">38</div>
<div style="transform:translate(726.97px,393.52px) matrix(1.04,.0005,0,1,0,0);font-size:13.5px;letter-spacing:0.2px;">40</div>
<div style="transform:translate(764.97px,393.52px) matrix(1.04,.0005,0,1,0,0);font-size:13.5px;letter-spacing:0.2px;">42</div>
<div style="transform:translate(804.97px,393.52px) matrix(1.04,.0005,0,1,0,0);font-size:13.5px;letter-spacing:0.2px;">44</div>
<div style="transform:translate(849.97px,393.52px) matrix(1.04,.0005,0,1,0,0);font-size:13.5px;letter-spacing:0.2px;">46</div>
<div style="transform:translate(888.97px,393.52px) matrix(1.04,.0005,0,1,0,0);font-size:13.5px;letter-spacing:0.2px;">48</div>
<div class="h" style="transform:translate(531.20px,414.94px) matrix(1.19,.0005,0,1,0,0);font-size:13px;font-weight:700;">Men's Shirts</div>
<div style="transform:translate(531.00px,430.74px) matrix(1.04,.0005,0,1,0,0);font-size:13.5px;letter-spacing:0.4px;">American</div>
<div style="transform:translate(648.77px,430.74px) matrix(1.04,.0005,0,1,0,0);font-size:13.5px;letter-spacing:0.2px;">14</div>
<div style="transform:translate(687.97px,430.74px) matrix(1.04,.0005,0,1,0,0);font-size:13.5px;letter-spacing:0.2px;">14<b>½</b></div>
<div style="transform:translate(726.97px,430.74px) matrix(1.04,.0005,0,1,0,0);font-size:13.5px;letter-spacing:0.2px;">15</div>
<div style="transform:translate(764.97px,430.74px) matrix(1.04,.0005,0,1,0,0);font-size:13.5px;letter-spacing:0.2px;">15<b>½</b></div>
<div style="transform:translate(804.97px,430.74px) matrix(1.04,.0005,0,1,0,0);font-size:13.5px;letter-spacing:0.2px;">16</div>
<div style="transform:translate(849.97px,430.74px) matrix(1.04,.0005,0,1,0,0);font-size:13.5px;letter-spacing:0.2px;">16<b>½</b></div>
<div style="transform:translate(888.97px,430.74px) matrix(1.04,.0005,0,1,0,0);font-size:13.5px;letter-spacing:0.2px;">17</div>
<div style="transform:translate(531.00px,446.44px) matrix(1.04,.0005,0,1,0,0);font-size:13.5px;letter-spacing:0.38px;">British</div>
<div style="transform:translate(648.77px,446.44px) matrix(1.04,.0005,0,1,0,0);font-size:13.5px;letter-spacing:0.2px;">14</div>
<div style="transform:translate(687.97px,446.44px) matrix(1.04,.0005,0,1,0,0);font-size:13.5px;letter-spacing:0.2px;">14<b>½</b></div>
<div style="transform:translate(726.97px,446.44px) matrix(1.04,.0005,0,1,0,0);font-size:13.5px;letter-spacing:0.2px;">15</div>
<div style="transform:translate(764.97px,446.44px) matrix(1.04,.0005,0,1,0,0);font-size:13.5px;letter-spacing:0.2px;">15<b>½</b></div>
<div style="transform:translate(804.97px,446.44px) matrix(1.04,.0005,0,1,0,0);font-size:13.5px;letter-spacing:0.2px;">16</div>
<div style="transform:translate(849.97px,446.44px) matrix(1.04,.0005,0,1,0,0);font-size:13.5px;letter-spacing:0.2px;">16<b>½</b></div>
<div style="transform:translate(888.97px,446.44px) matrix(1.04,.0005,0,1,0,0);font-size:13.5px;letter-spacing:0.2px;">17</div>
<div style="transform:translate(531.00px,462.24px) matrix(1.04,.0005,0,1,0,0);font-size:13.5px;letter-spacing:0.23px;">European</div>
<div style="transform:translate(648.77px,462.24px) matrix(1.04,.0005,0,1,0,0);font-size:13.5px;letter-spacing:0.2px;">36</div>
<div style="transform:translate(687.97px,462.24px) matrix(1.04,.0005,0,1,0,0);font-size:13.5px;letter-spacing:0.2px;">37</div>
<div style="transform:translate(726.97px,462.24px) matrix(1.04,.0005,0,1,0,0);font-size:13.5px;letter-spacing:0.2px;">38</div>
<div style="transform:translate(764.97px,462.24px) matrix(1.04,.0005,0,1,0,0);font-size:13.5px;letter-spacing:0.2px;">39</div>
<div style="transform:translate(804.97px,462.24px) matrix(1.04,.0005,0,1,0,0);font-size:13.5px;letter-spacing:0.2px;">41</div>
<div style="transform:translate(849.97px,462.24px) matrix(1.04,.0005,0,1,0,0);font-size:13.5px;letter-spacing:0.2px;">42</div>
<div style="transform:translate(888.97px,462.24px) matrix(1.04,.0005,0,1,0,0);font-size:13.5px;letter-spacing:0.2px;">43</div>
<div class="h" style="transform:translate(531.20px,483.66px) matrix(1.175,.0005,0,1,0,0);font-size:13px;font-weight:700;">Women's Blouses and Sweaters</div>
<div style="transform:translate(531.00px,499.46px) matrix(1.04,.0005,0,1,0,0);font-size:13.5px;letter-spacing:0.4px;">American</div>
<div style="transform:translate(687.97px,499.46px) matrix(1.04,.0005,0,1,0,0);font-size:13.5px;letter-spacing:0.2px;">34</div>
<div style="transform:translate(726.97px,499.46px) matrix(1.04,.0005,0,1,0,0);font-size:13.5px;letter-spacing:0.2px;">36</div>
<div style="transform:translate(764.97px,499.46px) matrix(1.04,.0005,0,1,0,0);font-size:13.5px;letter-spacing:0.2px;">38</div>
<div style="transform:translate(804.97px,499.46px) matrix(1.04,.0005,0,1,0,0);font-size:13.5px;letter-spacing:0.2px;">40</div>
<div style="transform:translate(849.97px,499.46px) matrix(1.04,.0005,0,1,0,0);font-size:13.5px;letter-spacing:0.2px;">42</div>
<div style="transform:translate(888.97px,499.46px) matrix(1.04,.0005,0,1,0,0);font-size:13.5px;letter-spacing:0.2px;">44</div>
<div style="transform:translate(531.00px,515.16px) matrix(1.04,.0005,0,1,0,0);font-size:13.5px;letter-spacing:0.38px;">British</div>
<div style="transform:translate(687.97px,515.16px) matrix(1.04,.0005,0,1,0,0);font-size:13.5px;letter-spacing:0.2px;">36</div>
<div style="transform:translate(726.97px,515.16px) matrix(1.04,.0005,0,1,0,0);font-size:13.5px;letter-spacing:0.2px;">38</div>
<div style="transform:translate(764.97px,515.16px) matrix(1.04,.0005,0,1,0,0);font-size:13.5px;letter-spacing:0.2px;">40</div>
<div style="transform:translate(804.97px,515.16px) matrix(1.04,.0005,0,1,0,0);font-size:13.5px;letter-spacing:0.2px;">42</div>
<div style="transform:translate(849.97px,515.16px) matrix(1.04,.0005,0,1,0,0);font-size:13.5px;letter-spacing:0.2px;">44</div>
<div style="transform:translate(888.97px,515.16px) matrix(1.04,.0005,0,1,0,0);font-size:13.5px;letter-spacing:0.2px;">46</div>
<div style="transform:translate(531.00px,530.96px) matrix(1.04,.0005,0,1,0,0);font-size:13.5px;letter-spacing:0.23px;">European</div>
<div style="transform:translate(687.97px,530.96px) matrix(1.04,.0005,0,1,0,0);font-size:13.5px;letter-spacing:0.2px;">42</div>
<div style="transform:translate(726.97px,530.96px) matrix(1.04,.0005,0,1,0,0);font-size:13.5px;letter-spacing:0.2px;">44</div>
<div style="transform:translate(764.97px,530.96px) matrix(1.04,.0005,0,1,0,0);font-size:13.5px;letter-spacing:0.2px;">46</div>
<div style="transform:translate(804.97px,530.96px) matrix(1.04,.0005,0,1,0,0);font-size:13.5px;letter-spacing:0.2px;">48</div>
<div style="transform:translate(849.97px,530.96px) matrix(1.04,.0005,0,1,0,0);font-size:13.5px;letter-spacing:0.2px;">50</div>
<div style="transform:translate(888.97px,530.96px) matrix(1.04,.0005,0,1,0,0);font-size:13.5px;letter-spacing:0.2px;">52</div>
<div class="h" style="transform:translate(531.20px,552.38px) matrix(1.19,.0005,0,1,0,0);font-size:13px;font-weight:700;">Men's Shoes</div>
<div style="transform:translate(531.00px,568.18px) matrix(1.04,.0005,0,1,0,0);font-size:13.5px;letter-spacing:0.4px;">American</div>
<div style="transform:translate(696.59px,568.18px) matrix(1.04,.0005,0,1,0,0);font-size:13.5px;letter-spacing:0.2px;">7<b>½</b></div>
<div style="transform:translate(735.59px,568.18px) matrix(1.04,.0005,0,1,0,0);font-size:13.5px;letter-spacing:0.2px;">8</div>
<div style="transform:translate(773.59px,568.18px) matrix(1.04,.0005,0,1,0,0);font-size:13.5px;letter-spacing:0.2px;">8<b>½</b></div>
<div style="transform:translate(813.59px,568.18px) matrix(1.04,.0005,0,1,0,0);font-size:13.5px;letter-spacing:0.2px;">9<b>½</b></div>
<div style="transform:translate(849.97px,568.18px) matrix(1.04,.0005,0,1,0,0);font-size:13.5px;letter-spacing:0.2px;">10<b>½</b></div>
<div style="transform:translate(888.97px,568.18px) matrix(1.04,.0005,0,1,0,0);font-size:13.5px;letter-spacing:0.2px;">11<b>½</b></div>
<div style="transform:translate(531.00px,583.88px) matrix(1.04,.0005,0,1,0,0);font-size:13.5px;letter-spacing:0.38px;">British</div>
<div style="transform:translate(696.59px,583.88px) matrix(1.04,.0005,0,1,0,0);font-size:13.5px;letter-spacing:0.2px;">7</div>
<div style="transform:translate(735.59px,583.88px) matrix(1.04,.0005,0,1,0,0);font-size:13.5px;letter-spacing:0.2px;">7<b>½</b></div>
<div style="transform:translate(773.59px,583.88px) matrix(1.04,.0005,0,1,0,0);font-size:13.5px;letter-spacing:0.2px;">8</div>
<div style="transform:translate(813.59px,583.88px) matrix(1.04,.0005,0,1,0,0);font-size:13.5px;letter-spacing:0.2px;">9</div>
<div style="transform:translate(849.97px,583.88px) matrix(1.04,.0005,0,1,0,0);font-size:13.5px;letter-spacing:0.2px;">10</div>
<div style="transform:translate(888.97px,583.88px) matrix(1.04,.0005,0,1,0,0);font-size:13.5px;letter-spacing:0.2px;">11</div>
<div style="transform:translate(531.00px,599.68px) matrix(1.04,.0005,0,1,0,0);font-size:13.5px;letter-spacing:0.23px;">European</div>
<div style="transform:translate(687.97px,599.68px) matrix(1.04,.0005,0,1,0,0);font-size:13.5px;letter-spacing:0.2px;">40<b>½</b></div>
<div style="transform:translate(726.97px,599.68px) matrix(1.04,.0005,0,1,0,0);font-size:13.5px;letter-spacing:0.2px;">41</div>
<div style="transform:translate(764.97px,599.68px) matrix(1.04,.0005,0,1,0,0);font-size:13.5px;letter-spacing:0.2px;">42</div>
<div style="transform:translate(804.97px,599.68px) matrix(1.04,.0005,0,1,0,0);font-size:13.5px;letter-spacing:0.2px;">43</div>
<div style="transform:translate(849.97px,599.68px) matrix(1.04,.0005,0,1,0,0);font-size:13.5px;letter-spacing:0.2px;">44<b>½</b></div>
<div style="transform:translate(888.97px,599.68px) matrix(1.04,.0005,0,1,0,0);font-size:13.5px;letter-spacing:0.2px;">46</div>
<div class="h" style="transform:translate(531.20px,621.10px) matrix(1.175,.0005,0,1,0,0);font-size:13px;font-weight:700;">Women's Shoes</div>
<div style="transform:translate(531.00px,636.90px) matrix(1.04,.0005,0,1,0,0);font-size:13.5px;letter-spacing:0.4px;">American</div>
<div style="transform:translate(696.59px,636.90px) matrix(1.04,.0005,0,1,0,0);font-size:13.5px;letter-spacing:0.2px;">7</div>
<div style="transform:translate(735.59px,636.90px) matrix(1.04,.0005,0,1,0,0);font-size:13.5px;letter-spacing:0.2px;">7<b>½</b></div>
<div style="transform:translate(773.59px,636.90px) matrix(1.04,.0005,0,1,0,0);font-size:13.5px;letter-spacing:0.2px;">8</div>
<div style="transform:translate(813.59px,636.90px) matrix(1.04,.0005,0,1,0,0);font-size:13.5px;letter-spacing:0.2px;">8<b>½</b></div>
<div style="transform:translate(858.59px,636.90px) matrix(1.04,.0005,0,1,0,0);font-size:13.5px;letter-spacing:0.2px;">9</div>
<div style="transform:translate(897.59px,636.90px) matrix(1.04,.0005,0,1,0,0);font-size:13.5px;letter-spacing:0.2px;">9<b>½</b></div>
<div style="transform:translate(531.00px,652.60px) matrix(1.04,.0005,0,1,0,0);font-size:13.5px;letter-spacing:0.38px;">British</div>
<div style="transform:translate(696.59px,652.60px) matrix(1.04,.0005,0,1,0,0);font-size:13.5px;letter-spacing:0.2px;">4<b>½</b></div>
<div style="transform:translate(735.59px,652.60px) matrix(1.04,.0005,0,1,0,0);font-size:13.5px;letter-spacing:0.2px;">5</div>
<div style="transform:translate(773.59px,652.60px) matrix(1.04,.0005,0,1,0,0);font-size:13.5px;letter-spacing:0.2px;">5<b>½</b></div>
<div style="transform:translate(813.59px,652.60px) matrix(1.04,.0005,0,1,0,0);font-size:13.5px;letter-spacing:0.2px;">6</div>
<div style="transform:translate(858.59px,652.60px) matrix(1.04,.0005,0,1,0,0);font-size:13.5px;letter-spacing:0.2px;">6<b>½</b></div>
<div style="transform:translate(897.59px,652.60px) matrix(1.04,.0005,0,1,0,0);font-size:13.5px;letter-spacing:0.2px;">7</div>
<div style="transform:translate(531.00px,668.40px) matrix(1.04,.0005,0,1,0,0);font-size:13.5px;letter-spacing:0.23px;">European</div>
<div style="transform:translate(687.97px,668.40px) matrix(1.04,.0005,0,1,0,0);font-size:13.5px;letter-spacing:0.2px;">37<b>½</b></div>
<div style="transform:translate(726.97px,668.40px) matrix(1.04,.0005,0,1,0,0);font-size:13.5px;letter-spacing:0.2px;">38</div>
<div style="transform:translate(764.97px,668.40px) matrix(1.04,.0005,0,1,0,0);font-size:13.5px;letter-spacing:0.2px;">38<b>½</b></div>
<div style="transform:translate(804.97px,668.40px) matrix(1.04,.0005,0,1,0,0);font-size:13.5px;letter-spacing:0.2px;">39</div>
<div style="transform:translate(849.97px,668.40px) matrix(1.04,.0005,0,1,0,0);font-size:13.5px;letter-spacing:0.2px;">40</div>
<div style="transform:translate(888.97px,668.40px) matrix(1.04,.0005,0,1,0,0);font-size:13.5px;letter-spacing:0.2px;">40<b>½</b></div>
<div class="h" style="transform:translate(531.20px,689.82px) matrix(1.175,.0005,0,1,0,0);font-size:13px;font-weight:700;">Children's Clothes</div>
<div style="transform:translate(531.00px,705.62px) matrix(1.04,.0005,0,1,0,0);font-size:13.5px;letter-spacing:0.4px;">American</div>
<div style="transform:translate(695.19px,705.62px) matrix(1.04,.0005,0,1,0,0);font-size:13.5px;letter-spacing:0.2px;">4</div>
<div style="transform:translate(734.19px,705.62px) matrix(1.04,.0005,0,1,0,0);font-size:13.5px;letter-spacing:0.2px;">6</div>
<div style="transform:translate(772.19px,705.62px) matrix(1.04,.0005,0,1,0,0);font-size:13.5px;letter-spacing:0.2px;">8</div>
<div style="transform:translate(803.57px,705.62px) matrix(1.04,.0005,0,1,0,0);font-size:13.5px;letter-spacing:0.2px;">10</div>
<div style="transform:translate(848.57px,705.62px) matrix(1.04,.0005,0,1,0,0);font-size:13.5px;letter-spacing:0.2px;">12</div>
<div style="transform:translate(887.57px,705.62px) matrix(1.04,.0005,0,1,0,0);font-size:13.5px;letter-spacing:0.2px;">14</div>
<div style="transform:translate(531.00px,721.32px) matrix(1.04,.0005,0,1,0,0);font-size:13.5px;letter-spacing:0.33px;">British (Hgt. in.)</div>
<div style="transform:translate(686.57px,721.32px) matrix(1.04,.0005,0,1,0,0);font-size:13.5px;letter-spacing:0.2px;">43</div>
<div style="transform:translate(725.57px,721.32px) matrix(1.04,.0005,0,1,0,0);font-size:13.5px;letter-spacing:0.2px;">48</div>
<div style="transform:translate(763.57px,721.32px) matrix(1.04,.0005,0,1,0,0);font-size:13.5px;letter-spacing:0.2px;">55</div>
<div style="transform:translate(803.57px,721.32px) matrix(1.04,.0005,0,1,0,0);font-size:13.5px;letter-spacing:0.2px;">58</div>
<div style="transform:translate(848.57px,721.32px) matrix(1.04,.0005,0,1,0,0);font-size:13.5px;letter-spacing:0.2px;">60</div>
<div style="transform:translate(887.57px,721.32px) matrix(1.04,.0005,0,1,0,0);font-size:13.5px;letter-spacing:0.2px;">62</div>
<div style="transform:translate(531.00px,737.12px) matrix(1.04,.0005,0,1,0,0);font-size:13.5px;letter-spacing:0.2px;">European (Hgt. cm.)</div>
<div style="transform:translate(678.56px,737.12px) matrix(1.04,.0005,0,1,0,0);font-size:13.5px;letter-spacing:0.2px;">109</div>
<div style="transform:translate(717.56px,737.12px) matrix(1.04,.0005,0,1,0,0);font-size:13.5px;letter-spacing:0.2px;">122</div>
<div style="transform:translate(755.56px,737.12px) matrix(1.04,.0005,0,1,0,0);font-size:13.5px;letter-spacing:0.2px;">140</div>
<div style="transform:translate(795.56px,737.12px) matrix(1.04,.0005,0,1,0,0);font-size:13.5px;letter-spacing:0.2px;">147</div>
<div style="transform:translate(840.56px,737.12px) matrix(1.04,.0005,0,1,0,0);font-size:13.5px;letter-spacing:0.2px;">152</div>
<div style="transform:translate(879.56px,737.12px) matrix(1.04,.0005,0,1,0,0);font-size:13.5px;letter-spacing:0.2px;">157</div>
<div style="transform:translate(530.20px,760.10px) matrix(0.903,.0005,0,1,0,0);font-size:12px;"><strong>Clothing and Shoe Sizes:</strong></div>
<div style="transform:translate(662.90px,760.10px) matrix(0.87,.0005,0,1,0,0);font-size:12px;">All size equivalents are approximate and are subject to</div>
<div style="transform:translate(530.20px,774.10px) matrix(0.846,.0005,0,1,0,0);font-size:12px;">drift from established standards and the effects of vanity sizing. Care should</div>
<div style="transform:translate(530.20px,788.50px) matrix(0.866,.0005,0,1,0,0);font-size:12px;">therefore be taken when using them. Glove sizes are the same in every country.</div>
<svg class="grid" width="1000" height="1278" viewBox="0 0 1000 1278"><path d="M528.20 807.10H920.10M528.20 881.50H920.10M528.20 908.06H920.10M528.20 934.62H920.10M528.20 961.18H920.10M528.20 987.74H920.10M528.20 1014.30H920.10M528.20 1040.86H920.10M528.20 1067.42H920.10M528.70 807.10V1067.42M733.70 807.10V1067.42M760.50 807.10V1067.42M786.80 807.10V1067.42M813.50 807.10V1067.42M839.90 807.10V1067.42M866.50 807.10V1067.42M892.90 807.10V1067.42M919.60 807.10V1067.42"/></svg>
<div class="h2" style="transform:translate(562.30px,821.80px) matrix(1.135,.0005,0,1,0,0);font-size:15.5px;font-weight:700;">Individual Sizes</div>
<div class="h" style="transform:translate(541.00px,864.00px) matrix(1.25,.0005,0,1,0,0);font-size:12.7px;font-weight:700;">Name</div>
<div class="v" style="transform:translate(745.90px,878.60px) rotate(-90deg) scaleX(0.9);">Belt</div>
<div class="v" style="transform:translate(772.70px,878.60px) rotate(-90deg) scaleX(0.91);">Dress/Suit</div>
<div class="v" style="transform:translate(799.00px,878.60px) rotate(-90deg) scaleX(0.93);">Glove</div>
<div class="v" style="transform:translate(825.70px,878.60px) rotate(-90deg) scaleX(0.93);">Hat</div>
<div class="v" style="transform:translate(852.10px,878.60px) rotate(-90deg) scaleX(0.93);">Ring</div>
<div class="v" style="transform:translate(878.70px,878.60px) rotate(-90deg) scaleX(0.885);">Shirt/Blouse</div>
<div class="v" style="transform:translate(905.10px,878.60px) rotate(-90deg) scaleX(0.93);">Shoe</div>
</div>
</body>
</html>
